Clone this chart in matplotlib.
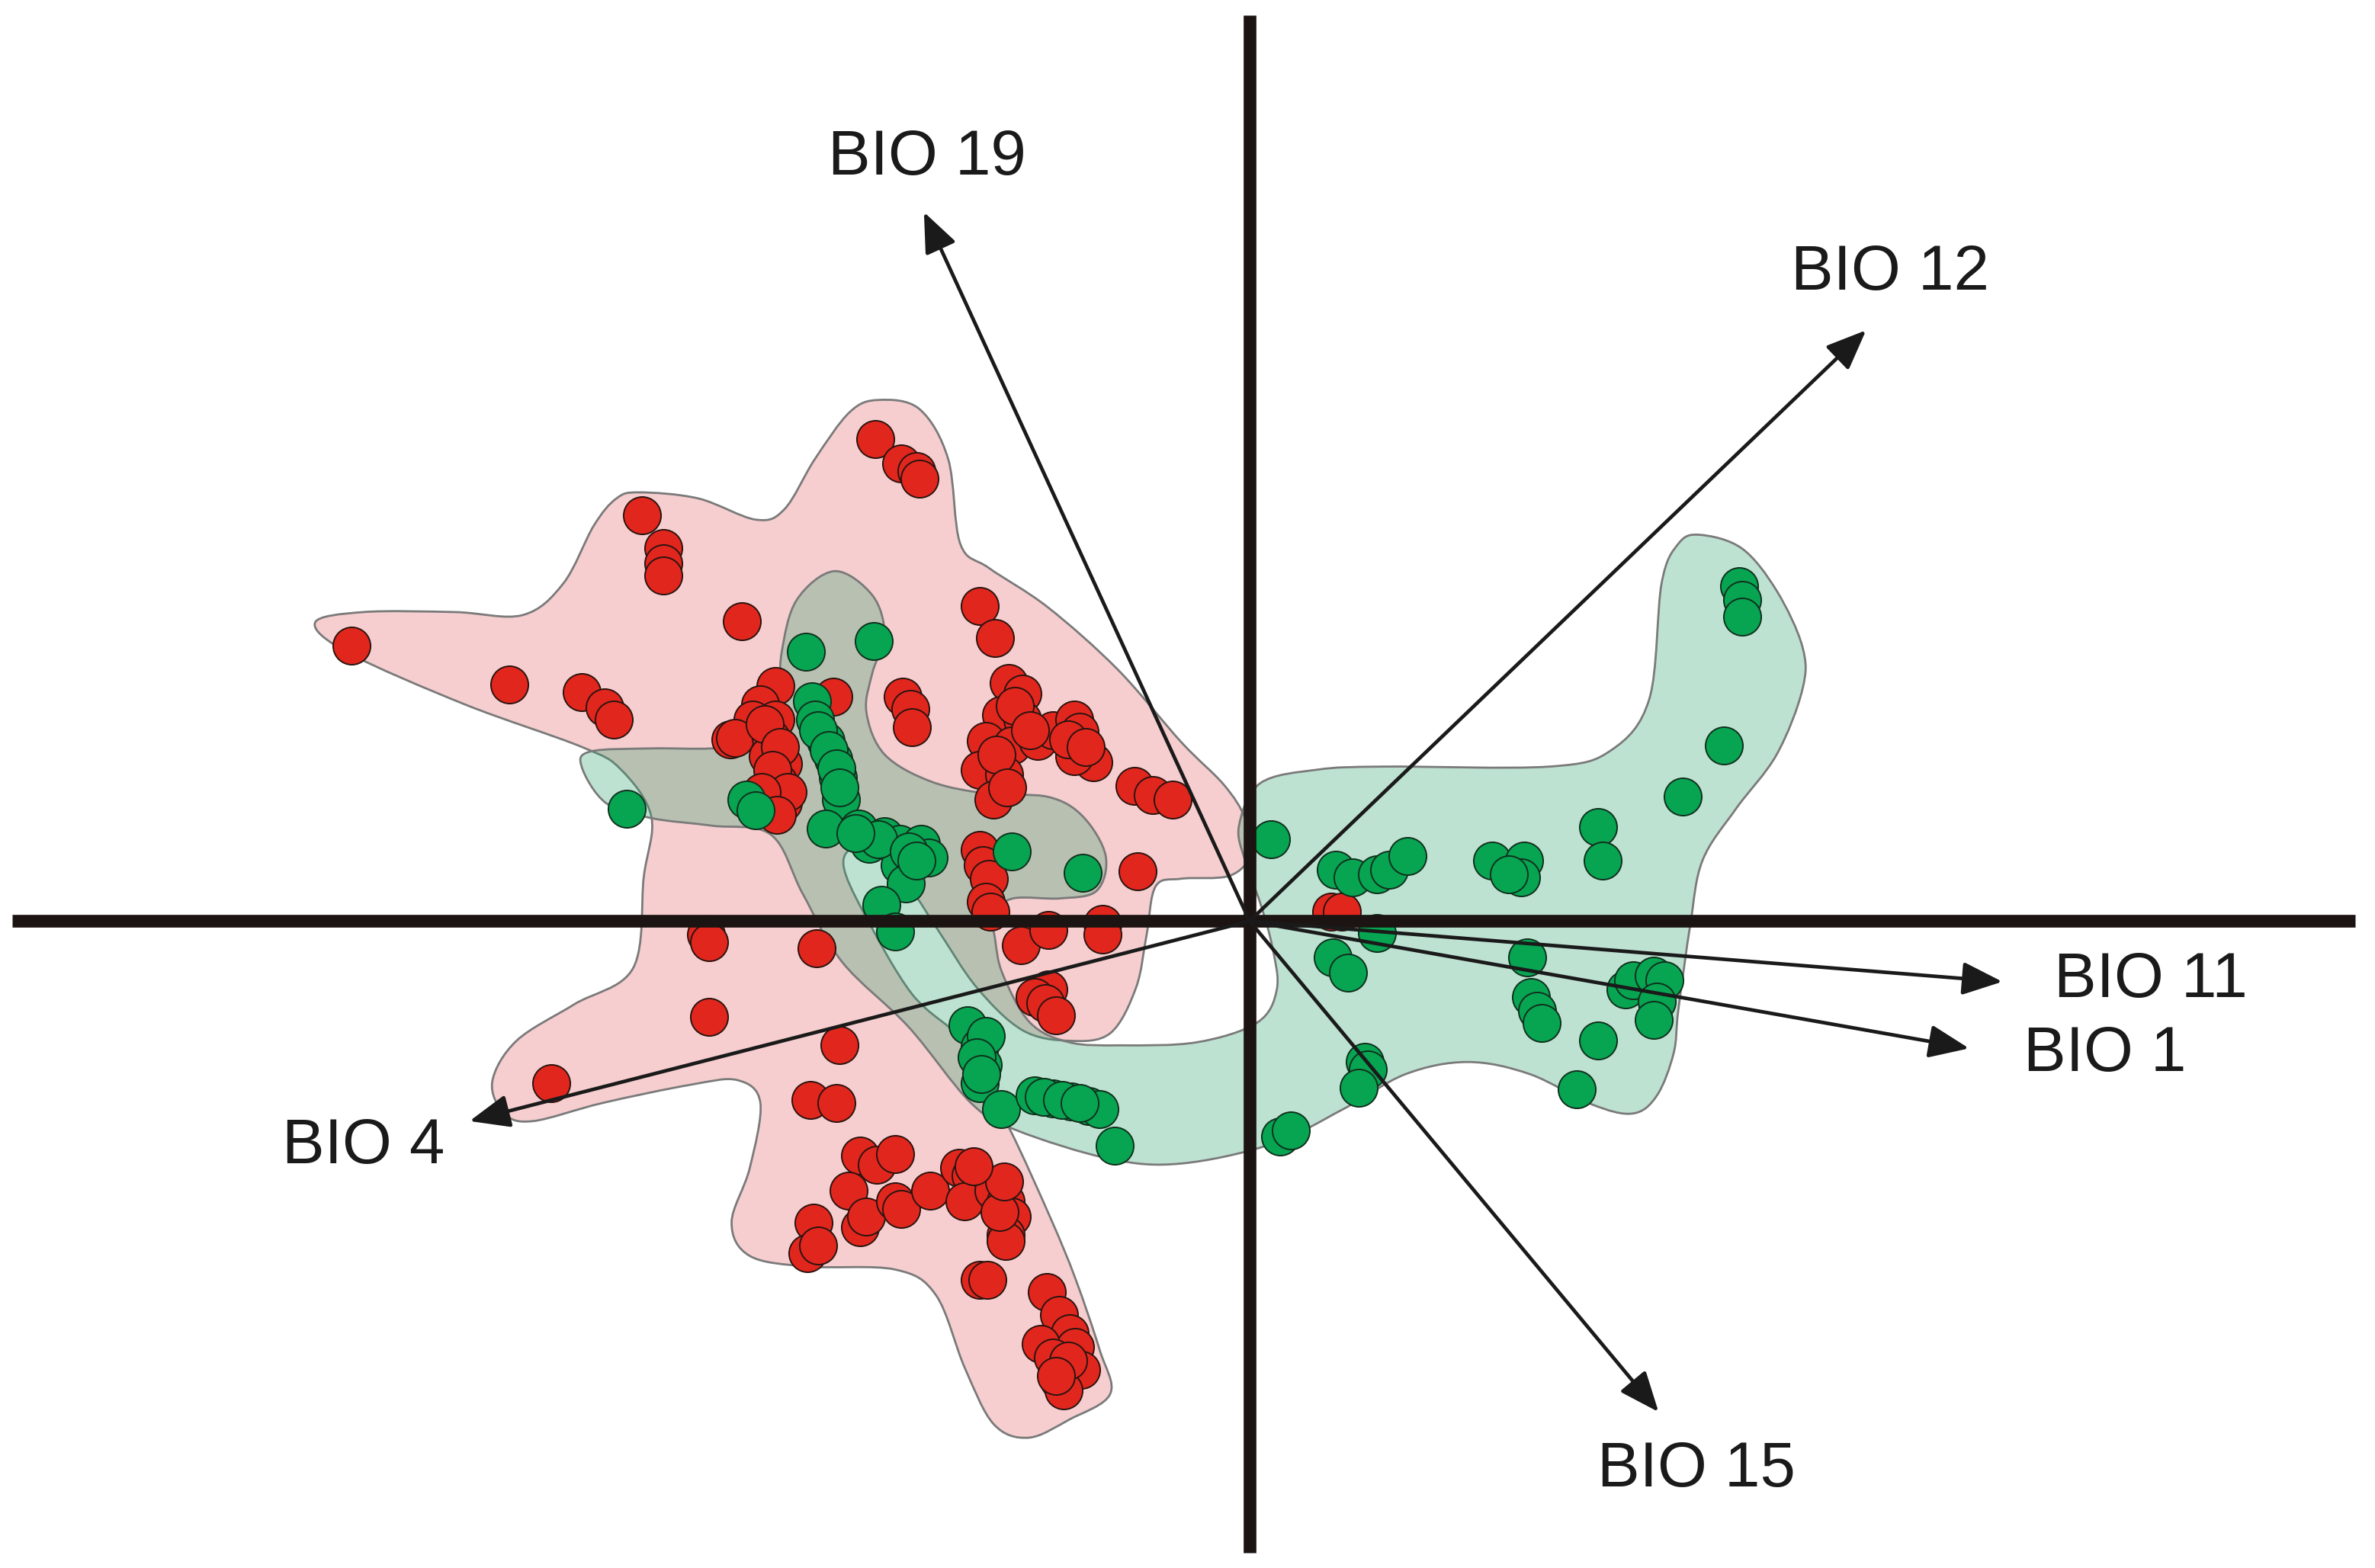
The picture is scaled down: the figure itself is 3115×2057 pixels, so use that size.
import numpy as np
import matplotlib.pyplot as plt
from matplotlib.path import Path
from matplotlib.patches import PathPatch

plt.rcParams['font.family'] = ['Liberation Sans', 'DejaVu Sans']

# PCA scores, group 1 (red)
red_x = [-2.47, -2.30, -2.20, -2.18, -4.01, -3.87, -3.87, -3.87, -5.93, -4.89, -4.41, -4.26, -4.20,
         -3.35, -1.78, -1.68, -3.43, -3.13, -3.23, -3.13, -3.28, -3.40, -3.16, -3.18, -3.08, -3.11,
         -3.08, -3.18, -2.75, -2.29, -2.24, -2.23, -1.59, -1.50, -1.64, -1.50, -1.74, -1.57, -1.78,
         -1.62, -1.69, -1.40, -1.30, -1.16, -1.12, -1.03, -1.16, -0.76, -0.64, -0.51, -0.74, -1.78,
         -1.76, -1.72, -1.74, -1.71, -1.51, -1.33, -0.97, -0.97, -3.59, -3.57, -2.86, -1.33, -1.42,
         -1.35, -1.28, -3.57, -2.71, -4.61, -2.90, -2.73, -2.57, -2.46, -2.34, -2.65, -2.88, -2.92,
         -2.57, -2.53, -2.34, -2.30, -2.11, -1.92, -1.84, -1.88, -1.69, -1.61, -1.57, -1.61, -1.61,
         -1.78, -1.73, -1.34, -1.26, -1.19, -1.38, -1.15, -1.30, -1.11, -1.26, -1.23, 0.54, 0.61,
         -2.85, -1.65, -1.55, -1.45, -1.67, -1.60, -1.20, -1.08, -3.20, -3.10, -3.15, -3.05, -3.22,
         -3.12, -1.62, -1.82, -1.20, -1.28]
red_y = [3.18, 3.02, 2.97, 2.92, 2.68, 2.46, 2.36, 2.28, 1.82, 1.56, 1.51, 1.41, 1.33,
         1.98, 2.08, 1.87, 1.20, 1.55, 1.43, 1.33, 1.33, 1.21, 1.21, 1.09, 1.04, 0.92,
         0.78, 0.75, 1.48, 1.48, 1.40, 1.28, 1.57, 1.50, 1.36, 1.33, 1.19, 1.16, 1.00,
         0.97, 0.80, 1.19, 1.26, 1.33, 1.25, 1.05, 1.09, 0.89, 0.83, 0.80, 0.33, 0.47,
         0.37, 0.28, 0.13, 0.06, -0.16, -0.06, -0.02, -0.09, -0.09, -0.14, -0.18, -0.45, -0.50,
         -0.54, -0.62, -0.63, -0.82, -1.07, -1.18, -1.20, -1.55, -1.61, -1.54, -1.78, -1.99, -2.19,
         -2.02, -1.95, -1.85, -1.90, -1.78, -1.63, -1.68, -1.85, -1.78, -1.85, -1.95, -2.07, -2.11,
         -2.37, -2.37, -2.45, -2.60, -2.72, -2.79, -2.81, -2.88, -2.96, -3.03, -3.10, 0.06, 0.06,
         -2.14, -1.92, 1.42, 1.26, 1.10, 0.88, 1.20, 1.15, 1.30, 1.15, 1.00, 0.85, 0.85,
         0.70, -1.72, -1.62, -2.90, -3.00]

# PCA scores, group 2 (green)
green_x = [-2.93, -2.48, -4.11, -2.89, -2.87, -2.80, -2.75, -2.72, -2.70, -2.80, -2.58, -2.51, -2.41,
           -2.31, -2.17, -2.12, -2.31, -2.27, -2.43, -2.34, -3.32, -3.26, -1.57, -1.10, 0.14, -1.86,
           -1.78, -1.76, -1.78, -1.74, -1.64, -1.42, -1.30, -1.18, -1.06, -0.99, -0.89, 0.20, 0.27,
           3.23, 3.25, 3.25, 3.13, 2.86, 2.30, 2.33, 1.60, 1.81, 1.79, 1.71, 0.57, 0.68, 0.84,
           0.92, 1.04, 0.84, 0.55, 0.65, 1.83, 1.86, 1.90, 1.93, 2.48, 2.53, 2.67, 2.74, 2.69,
           2.67, 2.30, 2.16, 0.76, 0.78, 0.72, -2.85, -2.78, -2.73, -2.71, -2.45, -2.25, -1.36,
           -1.24, -1.12, -1.80, -1.77, -2.60, -2.20]
green_y = [1.78, 1.85, 0.74, 1.45, 1.33, 1.19, 1.07, 0.95, 0.80, 0.61, 0.61, 0.51, 0.56,
           0.51, 0.51, 0.42, 0.37, 0.25, 0.11, -0.07, 0.80, 0.73, 0.46, 0.32, 0.54, -0.69,
           -0.83, -0.95, -1.07, -0.76, -1.24, -1.15, -1.17, -1.19, -1.22, -1.24, -1.48, -1.42, -1.38,
           2.21, 2.12, 2.01, 1.16, 0.82, 0.62, 0.40, 0.40, 0.40, 0.29, 0.31, 0.34, 0.29, 0.31,
           0.34, 0.43, -0.08, -0.24, -0.34, -0.24, -0.50, -0.59, -0.67, -0.45, -0.39, -0.36, -0.39, -0.53,
           -0.65, -0.79, -1.11, -0.93, -0.98, -1.10, 1.26, 1.13, 1.01, 0.88, 0.54, 0.46, -1.16,
           -1.18, -1.20, -0.90, -1.01, 0.58, 0.40]

# variable loadings (arrow tips)
var_names = ['BIO 19', 'BIO 12', 'BIO 11', 'BIO 1', 'BIO 15', 'BIO 4']
load_x = [-2.15, 4.07, 4.97, 4.75, 2.70, -5.15]
load_y = [4.68, 3.90, -0.40, -0.84, -3.24, -1.32]
label_x = [-2.13, 4.23, 5.31, 5.11, 2.95, -5.85]
label_y = [5.04, 4.28, -0.39, -0.88, -3.62, -1.49]
label_ha = ['center', 'center', 'left', 'left', 'center', 'center']

# hand drawn group envelopes
pink_x = [-6.17, -5.85, -5.25, -4.80, -4.53, -4.33, -4.18, -4.03, -3.64, -3.26, -3.07, -2.87, -2.64,
          -2.45, -2.18, -1.99, -1.91, -1.72, -1.33, -0.87, -0.45, -0.17, -0.03, 0.01, -0.13, -0.45,
          -0.62, -0.68, -0.75, -0.92, -1.19, -1.50, -1.80, -2.05, -2.25, -2.45, -2.62, -2.68, -2.55,
          -2.23, -1.89, -1.75, -1.58, -1.31, -1.15, -0.99, -0.92, -1.19, -1.46, -1.69, -1.88, -2.07,
          -2.34, -2.92, -3.30, -3.42, -3.30, -3.23, -3.38, -3.69, -4.27, -4.73, -4.92, -5.00, -4.84,
          -4.46, -4.07, -4.00, -3.95, -4.15, -4.41, -5.18, -5.95]
pink_y = [1.97, 2.04, 2.04, 2.02, 2.23, 2.61, 2.79, 2.83, 2.79, 2.65, 2.72, 3.05, 3.36,
          3.44, 3.38, 3.05, 2.49, 2.33, 2.07, 1.66, 1.18, 0.90, 0.68, 0.45, 0.30, 0.28,
          0.23, -0.09, -0.44, -0.74, -0.79, -0.72, -0.44, -0.07, 0.23, 0.43, 0.48, 0.36, 0.06,
          -0.48, -0.79, -1.10, -1.38, -1.97, -2.36, -2.83, -3.12, -3.29, -3.41, -3.32, -2.95, -2.47,
          -2.30, -2.28, -2.21, -1.99, -1.63, -1.20, -1.05, -1.08, -1.20, -1.32, -1.27, -1.06, -0.79,
          -0.55, -0.31, 0.29, 0.69, 1.00, 1.15, 1.43, 1.77]
green_hull_x = [-4.41, -4.35, -3.95, -3.55, -3.20, -3.11, -3.09, -2.99, -2.74, -2.49, -2.41, -2.49,
                -2.53, -2.41, -2.10, -1.72, -1.33, -1.10, -0.95, -1.01, -1.25, -1.56, -1.69, -1.68,
                -1.63, -1.45, -1.19, -0.85, -0.35, 0.05, 0.18, 0.15, 0.07, -0.03, -0.07, 0.07, 0.45,
                0.89, 1.98, 2.39, 2.64, 2.72, 2.83, 2.97, 3.25, 3.48, 3.65, 3.65, 3.48, 3.21, 2.99,
                2.91, 2.83, 2.80, 2.69, 2.53, 2.26, 1.85, 1.44, 1.03, 0.62, 0.15, -0.45, -0.92, -1.54,
                -1.84, -2.25, -2.69, -2.95, -3.16, -3.55, -3.95, -4.25]
green_hull_y = [1.02, 1.12, 1.14, 1.14, 1.18, 1.43, 1.77, 2.12, 2.31, 2.15, 1.89, 1.64,
                1.38, 1.10, 0.92, 0.84, 0.82, 0.69, 0.43, 0.20, 0.15, 0.15, 0.05, -0.12,
                -0.35, -0.67, -0.80, -0.82, -0.80, -0.67, -0.45, -0.17, 0.12, 0.40, 0.63, 0.91, 1.00,
                1.02, 1.02, 1.13, 1.47, 2.23, 2.49, 2.55, 2.46, 2.18, 1.81, 1.53, 1.10, 0.74, 0.40,
                -0.02, -0.59, -0.87, -1.15, -1.27, -1.21, -1.01, -0.93, -1.01, -1.24, -1.47, -1.60, -1.57, -1.38,
                -1.20, -0.70, -0.27, 0.18, 0.57, 0.63, 0.68, 0.78]


def smooth_outline(xs, ys):
    # closed catmull-rom curve turned into bezier segments
    p = np.column_stack([xs, ys])
    n = len(p)
    verts = [p[0]]
    codes = [Path.MOVETO]
    for i in range(n):
        p0, p1, p2, p3 = p[i - 1], p[i], p[(i + 1) % n], p[(i + 2) % n]
        verts += [p1 + (p2 - p0) / 6, p2 - (p3 - p1) / 6, p2]
        codes += [Path.CURVE4] * 3
    verts.append(p[0])
    codes.append(Path.CLOSEPOLY)
    return Path(verts, codes)


fig = plt.figure(figsize=(31.15, 20.57), dpi=100)
ax = fig.add_axes([0, 0, 1, 1])
ax.set_xlim(-8.25, 7.43)
ax.set_ylim(-4.27, 6.08)
ax.axis('off')

ax.add_patch(PathPatch(smooth_outline(pink_x, pink_y), facecolor='#df3f43', alpha=0.25,
                       edgecolor='none', zorder=1))
ax.add_patch(PathPatch(smooth_outline(pink_x, pink_y), facecolor='none',
                       edgecolor='#7a7a7a', lw=2.0, zorder=1.1))
ax.add_patch(PathPatch(smooth_outline(green_hull_x, green_hull_y), facecolor='#2aa26c', alpha=0.3,
                       edgecolor='none', zorder=2))
ax.add_patch(PathPatch(smooth_outline(green_hull_x, green_hull_y), facecolor='none',
                       edgecolor='#7a7a7a', lw=2.0, zorder=2.1))

ax.scatter(red_x, red_y, s=1250, color='#e1261d', edgecolor='#2a1410', linewidth=1.4, zorder=3)
ax.scatter(green_x, green_y, s=1250, color='#07a452', edgecolor='#10301c', linewidth=1.4, zorder=4)

# main axes through the origin
ax.plot([-8.17, 7.30], [0, 0], color='#1c1412', lw=12, solid_capstyle='butt', zorder=5)
ax.plot([0, 0], [-4.17, 5.98], color='#1c1412', lw=12, solid_capstyle='butt', zorder=5)

for name, lx, ly, tx, ty, ha in zip(var_names, load_x, load_y, label_x, label_y, label_ha):
    ax.annotate('', xy=(lx, ly), xytext=(0, 0),
                arrowprops=dict(arrowstyle='-|>,head_length=2.3,head_width=0.95', mutation_scale=14,
                                lw=3.4, color='#1a1a1a', shrinkA=0, shrinkB=0), zorder=6)
    ax.text(tx, ty, name, fontsize=60, ha=ha, va='center', color='#1a1a1a', zorder=7)

fig.savefig('out.png', dpi=100)
